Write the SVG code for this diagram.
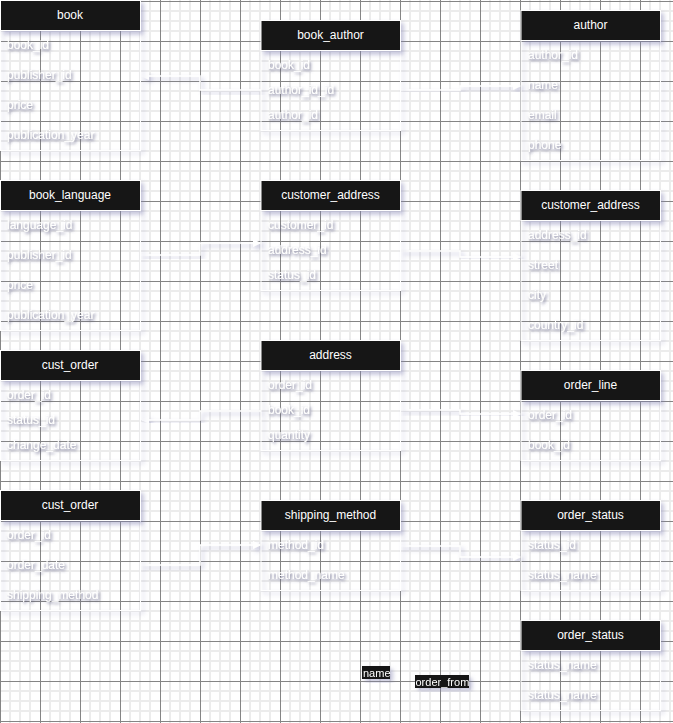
<svg xmlns="http://www.w3.org/2000/svg" width="673" height="723" viewBox="0 0 673 723">
<defs>
<pattern id="grid" x="0" y="1" width="40" height="40" patternUnits="userSpaceOnUse">
<rect width="40" height="40" fill="#ffffff"/>
<path d="M10,0V40M20,0V40M30,0V40M0,10H40M0,20H40M0,30H40" stroke="#ececec" stroke-width="2"/>
<path d="M0.5,0V40M0,0.5H40" stroke="#858585" stroke-width="1"/>
</pattern>
<filter id="sh" x="-20%" y="-20%" width="150%" height="150%">
<feDropShadow dx="3" dy="3" stdDeviation="2" flood-color="#8080b0" flood-opacity="0.45"/>
</filter>
<filter id="tsh" x="-20%" y="-50%" width="150%" height="220%">
<feDropShadow dx="1.5" dy="2" stdDeviation="1.5" flood-color="#5a5a80" flood-opacity="0.85"/>
</filter>
<marker id="arr" viewBox="0 0 8 8" refX="7" refY="4" markerWidth="8" markerHeight="8" markerUnits="userSpaceOnUse" orient="auto">
<path d="M0,0L8,4L0,8Z" fill="#ffffff"/>
</marker>
<style>
.hd{fill:#151515;stroke:#ffffff;stroke-width:1;filter:url(#sh)}
.bd{fill:none;stroke:#ffffff;stroke-width:1;filter:url(#sh)}
.ht{font-family:"Liberation Sans",Arial,sans-serif;font-size:12px;fill:#ffffff;text-anchor:middle}
.rt{font-family:"Liberation Sans",Arial,sans-serif;font-size:12px;fill:#ffffff;filter:url(#tsh)}
.cn{fill:none;stroke:#ffffff;stroke-width:1.5;filter:url(#sh)}
.lb{fill:#151515}
.lt{font-family:"Liberation Sans",Arial,sans-serif;font-size:11px;fill:#ffffff}
</style>
</defs>
<rect width="673" height="723" fill="url(#grid)"/>

<g id="connectors">
<path class="cn" d="M261,90H200V76H142" marker-end="url(#arr)"/>
<path class="cn" d="M400,90H460V86H520" marker-end="url(#arr)"/>
<path class="cn" d="M140,255H200V243H260" marker-end="url(#arr)"/>
<path class="cn" d="M400,251H460V257H520" marker-end="url(#arr)"/>
<path class="cn" d="M331,340V291" marker-end="url(#arr)"/>
<path class="cn" d="M261,411H200V420H142" marker-end="url(#arr)"/>
<path class="cn" d="M400,410H460V414H520" marker-end="url(#arr)"/>
<path class="cn" d="M140,565H200V545H260" marker-end="url(#arr)"/>
<path class="cn" d="M400,546H460V557H520" marker-end="url(#arr)"/>
<path class="cn" d="M390,680H520" marker-end="url(#arr)"/>
<g id="label-name" filter="url(#sh)"><rect class="lb" x="362" y="666" width="28" height="13"/><text class="lt" x="363" y="676.5">name</text></g>
<g id="label-order_from" filter="url(#sh)"><rect class="lb" x="415" y="675" width="54" height="13"/><text class="lt" x="415.5" y="685.5">order_from</text></g>
</g>

<g id="book">
<rect class="bd" x="0.5" y="30.5" width="140" height="120"/>
<rect class="hd" x="0.5" y="0.5" width="140" height="30"/>
<text class="ht" x="70" y="19">book</text>
<text class="rt" x="7" y="49">book_id</text>
<text class="rt" x="7" y="79">publisher_id</text>
<text class="rt" x="7" y="109">price</text>
<text class="rt" x="7" y="139">publication_year</text>
</g>

<g id="book_author">
<rect class="bd" x="261" y="50.5" width="139.5" height="80"/>
<rect class="hd" x="261" y="20.5" width="139.5" height="30"/>
<text class="ht" x="330.5" y="39">book_author</text>
<text class="rt" x="268" y="69">book_id</text>
<text class="rt" x="268" y="94">author_id_id</text>
<text class="rt" x="268" y="119">author_id</text>
</g>

<g id="author">
<rect class="bd" x="521" y="40.5" width="139.5" height="120"/>
<rect class="hd" x="521" y="10.5" width="139.5" height="30"/>
<text class="ht" x="590.5" y="29">author</text>
<text class="rt" x="528" y="59">author_id</text>
<text class="rt" x="528" y="89">name</text>
<text class="rt" x="528" y="119">email</text>
<text class="rt" x="528" y="149">phone</text>
</g>

<g id="book_language">
<rect class="bd" x="0.5" y="210.5" width="140" height="120"/>
<rect class="hd" x="0.5" y="180.5" width="140" height="30"/>
<text class="ht" x="70" y="199">book_language</text>
<text class="rt" x="7" y="229">language_id</text>
<text class="rt" x="7" y="259">publisher_id</text>
<text class="rt" x="7" y="289">price</text>
<text class="rt" x="7" y="319">publication_year</text>
</g>

<g id="customer_address_1">
<rect class="bd" x="261" y="210.5" width="139.5" height="80"/>
<rect class="hd" x="261" y="180.5" width="139.5" height="30"/>
<text class="ht" x="330.5" y="199">customer_address</text>
<text class="rt" x="268" y="229">customer_id</text>
<text class="rt" x="268" y="254">address_id</text>
<text class="rt" x="268" y="279">status_id</text>
</g>

<g id="customer_address_2">
<rect class="bd" x="521" y="220.5" width="139.5" height="120"/>
<rect class="hd" x="521" y="190.5" width="139.5" height="30"/>
<text class="ht" x="590.5" y="209">customer_address</text>
<text class="rt" x="528" y="239">address_id</text>
<text class="rt" x="528" y="269">street</text>
<text class="rt" x="528" y="299">city</text>
<text class="rt" x="528" y="329">country_id</text>
</g>

<g id="cust_order_1">
<rect class="bd" x="0.5" y="380.5" width="140" height="80"/>
<rect class="hd" x="0.5" y="350.5" width="140" height="30"/>
<text class="ht" x="70" y="369">cust_order</text>
<text class="rt" x="7" y="399">order_id</text>
<text class="rt" x="7" y="424">status_id</text>
<text class="rt" x="7" y="449">change_date</text>
</g>

<g id="address">
<rect class="bd" x="261" y="370.5" width="139.5" height="80"/>
<rect class="hd" x="261" y="340.5" width="139.5" height="30"/>
<text class="ht" x="330.5" y="359">address</text>
<text class="rt" x="268" y="389">order_id</text>
<text class="rt" x="268" y="414">book_id</text>
<text class="rt" x="268" y="439">quantity</text>
</g>

<g id="order_line">
<rect class="bd" x="521" y="400.5" width="139.5" height="60"/>
<rect class="hd" x="521" y="370.5" width="139.5" height="30"/>
<text class="ht" x="590.5" y="389">order_line</text>
<text class="rt" x="528" y="419">order_id</text>
<text class="rt" x="528" y="449">book_id</text>
</g>

<g id="cust_order_2">
<rect class="bd" x="0.5" y="520.5" width="140" height="90"/>
<rect class="hd" x="0.5" y="490.5" width="140" height="30"/>
<text class="ht" x="70" y="509">cust_order</text>
<text class="rt" x="7" y="539">order_id</text>
<text class="rt" x="7" y="569">order_date</text>
<text class="rt" x="7" y="599">shipping_method</text>
</g>

<g id="shipping_method">
<rect class="bd" x="261" y="530.5" width="139.5" height="60"/>
<rect class="hd" x="261" y="500.5" width="139.5" height="30"/>
<text class="ht" x="330.5" y="519">shipping_method</text>
<text class="rt" x="268" y="549">method_id</text>
<text class="rt" x="268" y="579">method_name</text>
</g>

<g id="order_status_1">
<rect class="bd" x="521" y="530.5" width="139.5" height="60"/>
<rect class="hd" x="521" y="500.5" width="139.5" height="30"/>
<text class="ht" x="590.5" y="519">order_status</text>
<text class="rt" x="528" y="549">status_id</text>
<text class="rt" x="528" y="579">status_name</text>
</g>

<g id="order_status_2">
<rect class="bd" x="521" y="650.5" width="139.5" height="60"/>
<rect class="hd" x="521" y="620.5" width="139.5" height="30"/>
<text class="ht" x="590.5" y="639">order_status</text>
<text class="rt" x="528" y="669">status_name</text>
<text class="rt" x="528" y="699">status_name</text>
</g>
</svg>
